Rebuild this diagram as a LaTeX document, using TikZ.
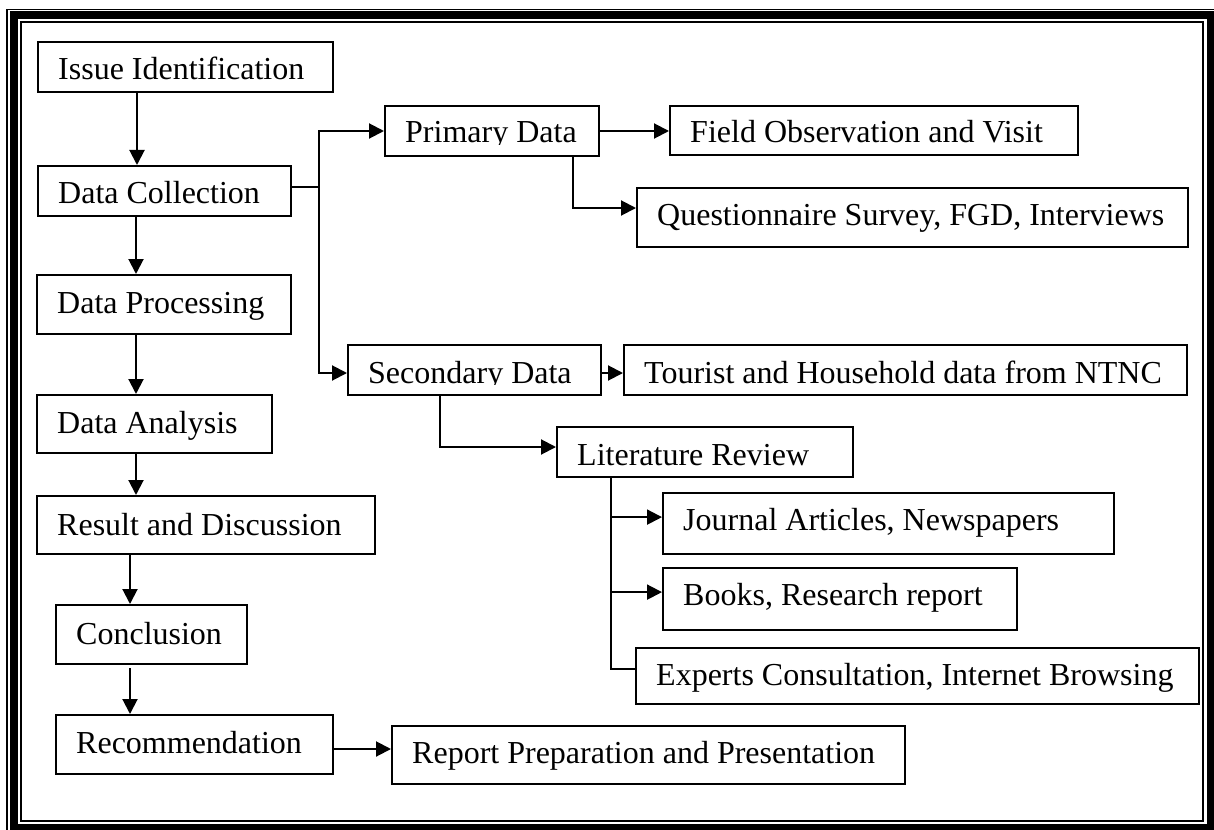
\documentclass[tikz,border=0pt]{standalone}
\usepackage{fontspec}
\setmainfont{Liberation Serif}
\usetikzlibrary{arrows.meta,calc}
\tikzset{
  box/.style={draw, line width=2.1pt, anchor=north west, inner sep=0pt},
  lbl/.style={anchor=base west, inner sep=0pt, font=\fontsize{32}{38}\selectfont},
  conn/.style={line width=2pt},
  arr/.style={conn, -{Triangle[length=15pt,width=15pt]}},
  frameouter/.style={line width=1.6pt},
  framethick/.style={line width=7.5pt},
  frameinner/.style={line width=2.2pt},
}
\newcommand\mybox[7]{%
  \node[box, minimum width={(#4)-(#2)}, minimum height={(#5)-(#3)}] (#1) at (#2,#3) {};
  \node[lbl] (#1-t) at ({#2+21},#6) {#7};}
\newcommand\myclipbox[7]{%
  \node[box, minimum width={(#4)-(#2)}, minimum height={(#5)-(#3)}] (#1) at (#2,#3) {};
  \begin{scope}
    \clip (#2,#3) rectangle (#4,{#6+1.5});
    \node[lbl] (#1-t) at ({#2+21},#6) {#7};
  \end{scope}}
\begin{document}
\begin{tikzpicture}[x=1pt,y=-1pt]
\useasboundingbox (0,0) rectangle (1214,829);
\clip (0,0) rectangle (1214,829);
\fill[white] (0,0) rectangle (1214,829);
% frame
\draw[frameouter] (7,9.5) rectangle (1218,836);
\draw[framethick] (14,15) rectangle (1211,828);
\draw[frameinner] (21,22) rectangle (1203,821);

% left column
\mybox{issue}{37}{41}{332}{91}{80}{Issue Identification}
\mybox{coll}{37}{165}{290}{215}{203}{Data Collection}
\mybox{proc}{36}{274}{290}{333}{313}{Data Processing}
\mybox{anal}{36}{394}{271}{452}{433}{Data Analysis}
\mybox{res}{36}{495}{374}{553}{535}{Result and Discussion}
\mybox{concl}{55}{604}{246}{663}{644}{Conclusion}
\mybox{rec}{55}{714}{332}{773}{753}{Recommendation}
\mybox{report}{391}{725}{904}{783}{763}{Report Preparation and Presentation}

% primary branch
\myclipbox{prim}{384}{105}{598}{155}{143}{Primary Data}
\mybox{field}{669}{105}{1077}{154}{143}{Field Observation and Visit}
\mybox{quest}{636}{187}{1187}{246}{225}{Questionnaire Survey, FGD, Interviews}

% secondary branch
\myclipbox{sec}{347}{344}{600}{394}{383}{Secondary Data}
\mybox{tour}{623}{344}{1186}{394}{383}{Tourist and Household data from NTNC}
\mybox{lit}{556}{426}{852}{476}{465}{Literature Review}
\mybox{journal}{662}{492}{1113}{553}{530}{Journal Articles, Newspapers}
\mybox{books}{662}{567}{1016}{629}{605}{Books, Research report}
\mybox{experts}{635}{647}{1198}{703}{685}{Experts Consultation, Internet Browsing}

% main chain
\draw[arr] ($(issue.south west)+(100,0)$) -- ($(coll.north west)+(100,0)$);
\draw[arr] ($(coll.south west)+(99,0)$) -- ($(proc.north west)+(100,0)$);
\draw[arr] ($(proc.south west)+(100,0)$) -- ($(anal.north west)+(100,0)$);
\draw[arr] ($(anal.south west)+(100,0)$) -- ($(res.north west)+(100,0)$);
\draw[arr] ($(res.south west)+(94,0)$) -- ($(concl.north west)+(75,0)$);
\draw[arr] ($(concl.south west)+(75,3)$) -- ($(rec.north west)+(75,0)$);
\coordinate (rr) at ($(rec.north east)+(0,35)$);
\draw[arr] (rr) -- (rr -| report.west);

% data collection split
\coordinate (cs) at ($(coll.north east)+(0,22)$);
\coordinate (split) at ($(cs)+(27,0)$);
\draw[conn] (cs) -- (split);
\draw[arr] (split) |- ($(prim.north west)+(0,26)$);
\draw[arr] (split) |- ($(sec.north west)+(0,29)$);

% primary
\draw[arr] ($(prim.north east)+(0,26)$) -- ($(field.north west)+(0,26)$);
\draw[arr] ($(prim.south west)+(189,0)$) |- ($(quest.north west)+(0,21)$);

% secondary
\draw[arr] ($(sec.north east)+(0,29)$) -- ($(tour.north west)+(0,29)$);
\draw[arr] ($(sec.south west)+(93,0)$) |- ($(lit.north west)+(0,21)$);

% literature
\coordinate (lb) at ($(lit.south west)+(55,0)$);
\coordinate (lj) at ($(lb)+(0,39)$);
\coordinate (lk) at ($(lb)+(0,114)$);
\coordinate (le) at ($(lb)+(0,191)$);
\draw[conn] (lb) -- (le) -- (le -| experts.west);
\draw[arr] (lj) -- (lj -| journal.west);
\draw[arr] (lk) -- (lk -| books.west);
\end{tikzpicture}
\end{document}
